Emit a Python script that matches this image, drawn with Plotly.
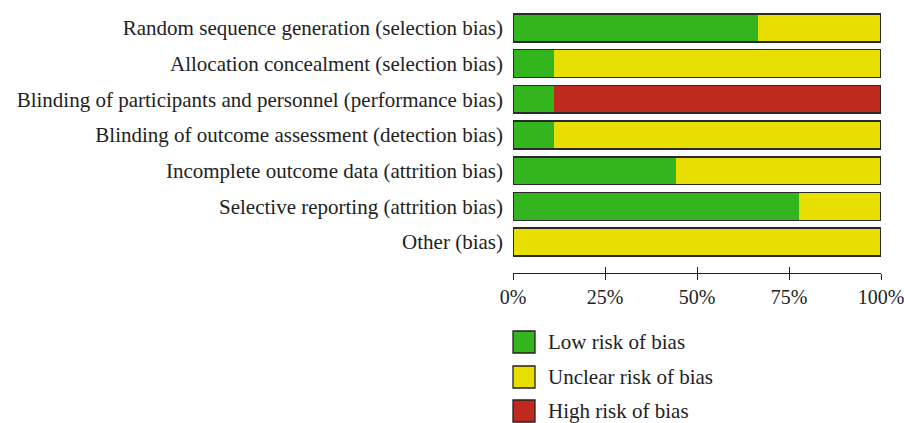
import plotly.graph_objects as go

categories = [
    "Random sequence generation (selection bias)",
    "Allocation concealment (selection bias)",
    "Blinding of participants and personnel (performance bias)",
    "Blinding of outcome assessment (detection bias)",
    "Incomplete outcome data (attrition bias)",
    "Selective reporting (attrition bias)",
    "Other (bias)",
]
low = [66.7, 11.1, 11.1, 11.1, 44.4, 77.8, 0.0]
unclear = [33.3, 88.9, 0.0, 88.9, 55.6, 22.2, 100.0]
high = [0.0, 0.0, 88.9, 0.0, 0.0, 0.0, 0.0]
tick_vals = [0, 25, 50, 75, 100]
tick_text = ["0%", "25%", "50%", "75%", "100%"]
series_names = ["Low risk of bias", "Unclear risk of bias", "High risk of bias"]
colors = ["#34b51f", "#e8df00", "#be2a1e"]

FONT = "Liberation Serif"
TXT = "#222222"
FS = 21
W, H = 904, 423
L, R = 513, 23

def py(px):
    return 1 - px / H

fig = go.Figure()
for name, vals, col in zip(series_names, [low, unclear, high], colors):
    fig.add_trace(go.Bar(
        y=categories, x=vals, name=name, orientation="h",
        marker=dict(color=col, line=dict(width=0)),
        width=0.78, showlegend=False, hoverinfo="x+name",
    ))

totals = [a + b + c for a, b, c in zip(low, unclear, high)]
fig.add_trace(go.Bar(
    y=categories, x=totals, orientation="h", xaxis="x2",
    marker=dict(color="rgba(0,0,0,0)", line=dict(color="#2a2a2a", width=1.5)),
    width=0.78, showlegend=False, hoverinfo="skip",
))

axis_pos = py(273)
fig.update_layout(
    width=W, height=H,
    margin=dict(l=L, r=R, t=0, b=0),
    paper_bgcolor="white", plot_bgcolor="white",
    barmode="stack", bargap=0.22,
    font=dict(family=FONT, color=TXT, size=FS),
    yaxis=dict(
        domain=[py(260), py(10)], autorange="reversed",
        showgrid=False, zeroline=False, showline=False, ticks="",
        ticklabelstandoff=9, tickfont=dict(size=FS, family=FONT, color=TXT),
    ),
    xaxis=dict(
        range=[0, 100], anchor="free", position=axis_pos,
        tickvals=tick_vals, ticktext=tick_text, ticklabeloverflow="allow",
        showgrid=False, zeroline=False, showline=True, linecolor="#222", linewidth=1.3,
        ticks="outside", ticklen=6, tickwidth=1.3, tickcolor="#222",
        tickfont=dict(size=20, family=FONT, color=TXT),
    ),
    xaxis2=dict(
        range=[0, 100], overlaying="x", anchor="free", position=axis_pos, side="bottom",
        tickvals=tick_vals, showticklabels=False,
        showgrid=False, zeroline=False, showline=False,
        ticks="inside", ticklen=6, tickwidth=1.3, tickcolor="#222",
    ),
)

# manual legend
pw = W - L - R
x0 = 0.0
box_w = 22 / pw
rows_y = [342, 377, 411]
for name, col, yc in zip(series_names, colors, rows_y):
    fig.add_shape(type="rect", xref="paper", yref="paper",
                  x0=x0, x1=x0 + box_w, y0=py(yc + 11), y1=py(yc - 11),
                  fillcolor=col, line=dict(color="#222", width=1.3))
    fig.add_annotation(xref="paper", yref="paper", x=x0 + 33 / pw, y=py(yc),
                       text=name, showarrow=False, xanchor="left", yanchor="middle",
                       font=dict(size=FS, family=FONT, color=TXT))

fig.write_html(
    "out.html",
    config={"displayModeBar": False},
    post_script="document.body.style.margin='0';document.body.style.overflow='hidden';",
)
